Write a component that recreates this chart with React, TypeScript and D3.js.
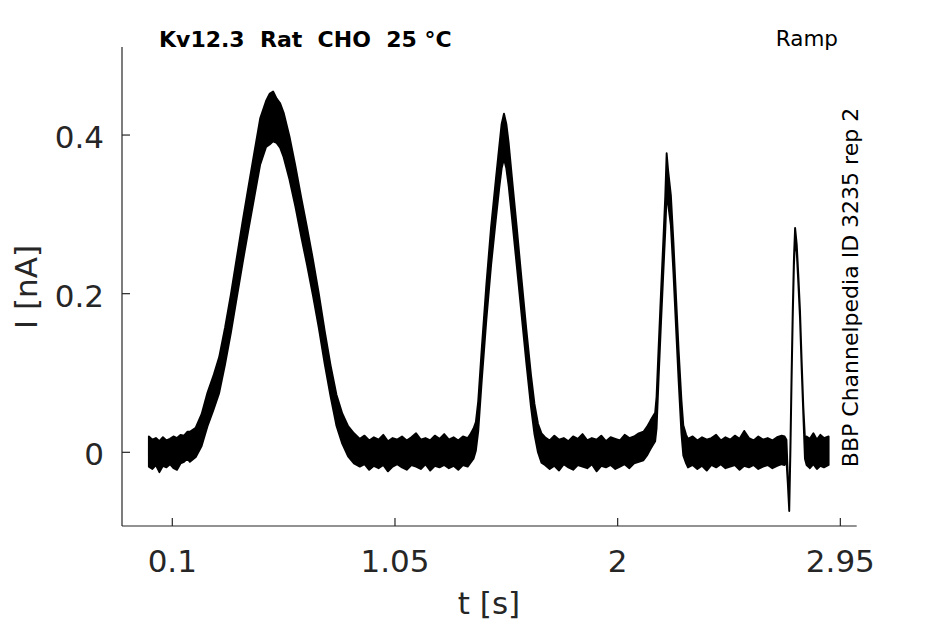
import * as d3 from "d3";

const T_S = [
  // baseline
  0.0, 0.015, 0.03, 0.045, 0.06, 0.075, 0.09, 0.105, 0.12, 0.135, 0.15, 0.165,
  // peak 1
  0.175, 0.2, 0.225, 0.25, 0.275, 0.3, 0.325, 0.35, 0.375, 0.4, 0.425, 0.45, 0.475, 0.5, 0.515, 0.53,
  0.545, 0.56, 0.575, 0.6, 0.625, 0.65, 0.675, 0.7, 0.725, 0.75, 0.775, 0.8, 0.825, 0.85, 0.875,
  // baseline
  0.9, 0.92, 0.94, 0.96, 0.98, 1.0, 1.02, 1.04, 1.06, 1.08, 1.1, 1.12, 1.14, 1.16, 1.18, 1.2,
  1.22, 1.24, 1.26, 1.28, 1.3, 1.32, 1.34, 1.36,
  // peak 2
  1.37, 1.385, 1.395, 1.405, 1.42, 1.44, 1.46, 1.48, 1.495, 1.505, 1.515, 1.525, 1.535, 1.55, 1.57,
  1.59, 1.61, 1.63, 1.645, 1.66, 1.675,
  // baseline
  1.69, 1.71, 1.73, 1.75, 1.77, 1.79, 1.81, 1.83, 1.85, 1.87, 1.89, 1.91, 1.93, 1.95, 1.97,
  1.99, 2.01, 2.03, 2.05, 2.07, 2.09,
  // peak 3
  2.11, 2.125, 2.14, 2.152, 2.16, 2.166, 2.175, 2.185, 2.195, 2.203, 2.209, 2.215, 2.227,
  2.238, 2.248, 2.26, 2.272, 2.28, 2.292,
  // baseline
  2.3, 2.32, 2.34, 2.36, 2.38, 2.4, 2.42, 2.44, 2.46, 2.48, 2.5, 2.52, 2.54, 2.56, 2.58, 2.6,
  2.62, 2.64, 2.66, 2.68, 2.7,
  // peak 4
  2.712, 2.72, 2.726, 2.732, 2.737, 2.742, 2.747, 2.752, 2.757, 2.764, 2.771, 2.778, 2.785,
  2.792, 2.799,
  // baseline
  2.806, 2.82, 2.835, 2.85, 2.865, 2.88, 2.9,
];

const HI_NA = [
  0.02, 0.016, 0.018, 0.014, 0.019, 0.015, 0.017, 0.02, 0.018, 0.022, 0.021, 0.026,
  0.026, 0.031, 0.048, 0.075, 0.096, 0.12, 0.157, 0.199, 0.245, 0.291, 0.335, 0.378, 0.421, 0.443, 0.452, 0.455,
  0.446, 0.44, 0.428, 0.398, 0.361, 0.321, 0.283, 0.243, 0.2, 0.153, 0.11, 0.073, 0.049, 0.033, 0.024,
  0.017, 0.021, 0.015, 0.019, 0.016, 0.022, 0.014, 0.018, 0.016, 0.02, 0.015, 0.019, 0.024, 0.016, 0.018, 0.015,
  0.021, 0.017, 0.023, 0.016, 0.019, 0.015, 0.02, 0.018,
  0.022, 0.03, 0.038, 0.064, 0.13, 0.212, 0.284, 0.343, 0.386, 0.414, 0.427, 0.414, 0.39, 0.343, 0.282,
  0.218, 0.156, 0.098, 0.061, 0.036, 0.024,
  0.019, 0.015, 0.021, 0.016, 0.018, 0.014, 0.02, 0.017, 0.023, 0.015, 0.018, 0.016, 0.021, 0.014, 0.019,
  0.017, 0.015, 0.022, 0.018, 0.02, 0.024,
  0.026, 0.032, 0.04, 0.046, 0.05, 0.07, 0.134, 0.202, 0.268, 0.322, 0.377, 0.356, 0.324,
  0.264, 0.202, 0.129, 0.066, 0.034, 0.022,
  0.017, 0.02, 0.015, 0.019, 0.016, 0.018, 0.022, 0.015, 0.019, 0.016, 0.021, 0.017, 0.027, 0.018, 0.015, 0.02,
  0.016, 0.018, 0.015, 0.019, 0.021,
  0.02, 0.016, -0.03, -0.068, 0.01, 0.1, 0.18, 0.245, 0.283, 0.262, 0.222, 0.178, 0.115,
  0.058, 0.018,
  0.02, 0.017, 0.024, 0.016, 0.022, 0.018, 0.02,
];

const LO_NA = [
  -0.018, -0.021, -0.016, -0.025, -0.017, -0.019, -0.015, -0.02, -0.022, -0.014, -0.012, -0.008,
  -0.012, -0.006, 0.008, 0.033, 0.053, 0.075, 0.111, 0.151, 0.195, 0.239, 0.281, 0.322, 0.363, 0.385, 0.388, 0.392,
  0.39, 0.384, 0.372, 0.344, 0.31, 0.272, 0.236, 0.198, 0.157, 0.112, 0.071, 0.034, 0.011, -0.005, -0.014,
  -0.018, -0.015, -0.022, -0.017, -0.02, -0.016, -0.024, -0.018, -0.015, -0.019, -0.022, -0.016, -0.018, -0.021, -0.015, -0.023,
  -0.017, -0.019, -0.016, -0.02, -0.017, -0.022, -0.016, -0.018,
  -0.014, -0.008, 0.002, 0.026, 0.09, 0.168, 0.236, 0.293, 0.334, 0.358, 0.37, 0.358, 0.336, 0.293, 0.234,
  0.174, 0.114, 0.058, 0.023, 0.0, -0.013,
  -0.016, -0.021, -0.017, -0.023, -0.015, -0.019, -0.022, -0.016, -0.018, -0.02, -0.015, -0.024, -0.017, -0.019, -0.016,
  -0.021, -0.018, -0.015, -0.02, -0.014, -0.012,
  -0.01, -0.004, 0.004, 0.01, 0.014, 0.03, 0.096, 0.164, 0.228, 0.278, 0.325, 0.314, 0.286,
  0.226, 0.164, 0.091, 0.024, -0.004, -0.014,
  -0.019, -0.016, -0.021, -0.017, -0.023, -0.016, -0.019, -0.015, -0.02, -0.018, -0.016, -0.022, -0.017, -0.019, -0.016, -0.021,
  -0.018, -0.016, -0.02, -0.017, -0.015,
  -0.016, -0.01, -0.04, -0.074, 0.0, 0.09, 0.17, 0.235, 0.27, 0.252, 0.212, 0.168, 0.105,
  0.048, -0.008,
  -0.016, -0.02, -0.015, -0.021, -0.017, -0.019, -0.016,
];

const X_TICKS = [0.1, 1.05, 2, 2.95];
const X_TICK_LABELS = ["0.1", "1.05", "2", "2.95"];
const Y_TICKS = [0, 0.2, 0.4];
const Y_TICK_LABELS = ["0", "0.2", "0.4"];

const TITLE = "Kv12.3  Rat  CHO  25 °C";
const PROTOCOL = "Ramp";
const SOURCE = "BBP Channelpedia ID 3235 rep 2";
const X_LABEL = "t [s]";
const Y_LABEL = "I [nA]";

const W = 945;
const H = 624;
const MARGIN = { top: 47, right: 88.3, bottom: 98, left: 122 };
const AXIS = "#262626";
const FONT = "'DejaVu Sans', sans-serif";

export default function App() {
  const x = d3.scaleLinear().domain([-0.1146, 3.0198]).range([MARGIN.left, W - MARGIN.right]);
  const y = d3.scaleLinear().domain([-0.0929, 0.511]).range([H - MARGIN.bottom, MARGIN.top]);

  const band = d3
    .area<number>()
    .x((_, i) => x(T_S[i]))
    .y0((_, i) => y(LO_NA[i]))
    .y1((_, i) => y(HI_NA[i]));

  const x0 = MARGIN.left;
  const x1 = W - MARGIN.right;
  const y0 = H - MARGIN.bottom;
  const y1 = MARGIN.top;

  return (
    <svg
      width={W}
      height={H}
      style={{ position: "absolute", left: 0, top: 0, background: "#fff" }}
      fontFamily={FONT}
    >
      <rect width={W} height={H} fill="#fff" />

      {/* trace */}
      <path
        d={band(T_S) ?? ""}
        fill="#000"
        stroke="#000"
        strokeWidth={1.9}
        strokeLinejoin="round"
      />

      {/* axes */}
      <line x1={x0} x2={x1} y1={y0} y2={y0} stroke={AXIS} strokeWidth={1.2} />
      <line x1={x0} x2={x0} y1={y0} y2={y1} stroke={AXIS} strokeWidth={1.2} />

      {X_TICKS.map((t, i) => (
        <g key={`xt${i}`}>
          <line x1={x(t)} x2={x(t)} y1={y0} y2={y0 - 8} stroke={AXIS} strokeWidth={1.2} />
          <text x={x(t)} y={572} textAnchor="middle" fontSize={31} fill={AXIS}>
            {X_TICK_LABELS[i]}
          </text>
        </g>
      ))}

      {Y_TICKS.map((v, i) => (
        <g key={`yt${i}`}>
          <line x1={x0} x2={x0 + 8} y1={y(v)} y2={y(v)} stroke={AXIS} strokeWidth={1.2} />
          <text x={104} y={y(v) + 13} textAnchor="end" fontSize={31} fill={AXIS}>
            {Y_TICK_LABELS[i]}
          </text>
        </g>
      ))}

      <text x={489} y={614} textAnchor="middle" fontSize={31} fill={AXIS}>
        {X_LABEL}
      </text>
      <text
        transform={`translate(37,287) rotate(-90)`}
        textAnchor="middle"
        fontSize={31}
        fill={AXIS}
      >
        {Y_LABEL}
      </text>

      <text x={159} y={47} fontSize={22} fontWeight="bold" fill="#000" style={{ whiteSpace: "pre" }}>
        {TITLE}
      </text>
      <text x={838} y={46} textAnchor="end" fontSize={21.5} fill="#000">
        {PROTOCOL}
      </text>
      <text
        transform={`translate(858,287.5) rotate(-90)`}
        textAnchor="middle"
        fontSize={22}
        fill="#000"
      >
        {SOURCE}
      </text>
    </svg>
  );
}
